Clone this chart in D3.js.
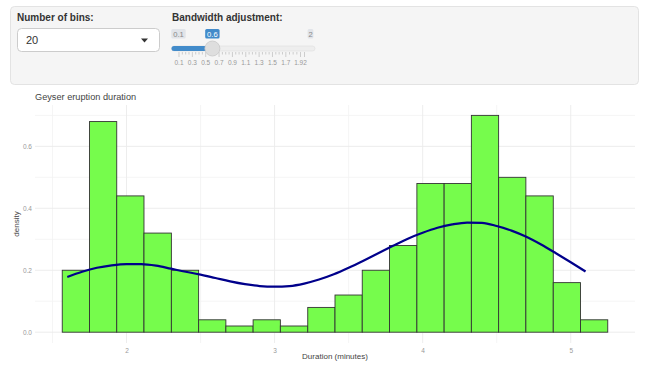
<!DOCTYPE html>
<html>
<head>
<meta charset="utf-8">
<script src="https://cdn.jsdelivr.net/npm/d3@7"></script>
<style>
  html, body { margin: 0; padding: 0; background: #fff; }
  svg { display: block; font-family: "Liberation Sans", Arial, Helvetica, sans-serif; }
</style>
</head>
<body>
<svg id="chart" width="650" height="365"></svg>
<script>
// ---------- data ----------
const binsLabel = "Number of bins:";
const binsValue = "20";
const bwLabel = "Bandwidth adjustment:";
const bwMin = 0.1, bwMax = 2, bwValue = 0.6;
const sliderTickLabels = ["0.1", "0.3", "0.5", "0.7", "0.9", "1.1", "1.3", "1.5", "1.7", "1.92"];

const chartTitle = "Geyser eruption duration";
const xTitle = "Duration (minutes)";
const yTitle = "density";

// histogram bin edges (minutes) and densities
const binEdges = [1.566, 1.750, 1.934, 2.118, 2.303, 2.487, 2.671, 2.855, 3.039, 3.224,
                  3.408, 3.592, 3.776, 3.961, 4.145, 4.329, 4.513, 4.697, 4.882, 5.066, 5.250];
const binDensity = [0.20, 0.68, 0.44, 0.32, 0.20, 0.04, 0.02, 0.04, 0.02, 0.08,
                    0.12, 0.20, 0.28, 0.48, 0.48, 0.70, 0.50, 0.44, 0.16, 0.04];

// kernel density curve
const kdeX = [1.6, 1.7, 1.8, 1.9, 2.0, 2.1, 2.2, 2.3, 2.4, 2.5, 2.6, 2.7, 2.8, 2.9, 3.0, 3.1, 3.2, 3.3,
              3.4, 3.5, 3.6, 3.7, 3.8, 3.9, 4.0, 4.1, 4.2, 4.3, 4.4, 4.5, 4.6, 4.7, 4.8, 4.9, 5.0, 5.1];
const kdeY = [0.178, 0.195, 0.208, 0.216, 0.220, 0.220, 0.215, 0.205, 0.195, 0.186, 0.175, 0.164,
              0.155, 0.149, 0.147, 0.149, 0.157, 0.170, 0.187, 0.208, 0.231, 0.255, 0.279, 0.302,
              0.321, 0.337, 0.348, 0.354, 0.353, 0.343, 0.328, 0.308, 0.283, 0.255, 0.226, 0.196];

const xTicks = [2, 3, 4, 5];
const xMinor = [1.5, 2.5, 3.5, 4.5];
const yTicks = [0.0, 0.2, 0.4, 0.6];
const yMinor = [0.1, 0.3, 0.5, 0.7];

// ---------- drawing ----------
const svg = d3.select("#chart");

// ----- control panel -----
svg.append("rect").attr("x", 10.5).attr("y", 6.5).attr("width", 628).attr("height", 78)
  .attr("rx", 4).attr("fill", "#f5f5f5").attr("stroke", "#e3e3e3");

svg.append("text").attr("x", 17).attr("y", 21).attr("font-size", 10).attr("font-weight", "bold")
  .attr("fill", "#333").text(binsLabel);

svg.append("rect").attr("x", 17.5).attr("y", 28.5).attr("width", 142).attr("height", 23)
  .attr("rx", 4).attr("fill", "#fff").attr("stroke", "#cccccc");
svg.append("text").attr("x", 26).attr("y", 44).attr("font-size", 11).attr("fill", "#333").text(binsValue);
svg.append("path").attr("d", "M141,38.5 L148,38.5 L144.5,42.5 Z").attr("fill", "#333");

svg.append("text").attr("x", 172).attr("y", 21).attr("font-size", 10).attr("font-weight", "bold")
  .attr("fill", "#333").text(bwLabel);

// slider scale
const sx = d3.scaleLinear().domain([bwMin, 1.92]).range([179, 300.5]);
const sliderLeft = 171.5, sliderRight = 315;
svg.append("rect").attr("x", sliderLeft).attr("y", 46).attr("width", sliderRight - sliderLeft).attr("height", 5)
  .attr("rx", 2.5).attr("fill", "#eeeeee").attr("stroke", "#dddddd").attr("stroke-width", 0.6);
svg.append("rect").attr("x", sliderLeft).attr("y", 46).attr("width", sx(bwValue) - sliderLeft).attr("height", 5)
  .attr("rx", 2.5).attr("fill", "#428bca");

// grid ticks of slider
const tickG = svg.append("g");
sliderTickLabels.forEach((lab, i) => {
  const v = +lab;
  tickG.append("line").attr("x1", sx(v)).attr("x2", sx(v)).attr("y1", 52).attr("y2", 57)
    .attr("stroke", "#bbb").attr("stroke-width", 0.7);
  tickG.append("text").attr("x", sx(v)).attr("y", 65).attr("text-anchor", "middle")
    .attr("font-size", 6.5).attr("fill", "#999").text(lab);
  if (i < sliderTickLabels.length - 1) {
    const nv = +sliderTickLabels[i + 1];
    for (let k = 1; k <= 3; k++) {
      const mv = v + (nv - v) * k / 4;
      tickG.append("line").attr("x1", sx(mv)).attr("x2", sx(mv)).attr("y1", 52).attr("y2", 54.5)
        .attr("stroke", "#bbb").attr("stroke-width", 0.7);
    }
  }
});
tickG.append("line").attr("x1", sx(1.92) + 4).attr("x2", sx(1.92) + 4).attr("y1", 52).attr("y2", 57)
  .attr("stroke", "#bbb").attr("stroke-width", 0.7);

// min / max / value labels
function sliderLabel(cx, txt, bg, fg) {
  const w = txt.length * 4.3 + 1.5;
  svg.append("rect").attr("x", cx - w / 2).attr("y", 29).attr("width", w).attr("height", 9.5)
    .attr("rx", 1.5).attr("fill", bg);
  svg.append("text").attr("x", cx).attr("y", 36.6).attr("text-anchor", "middle")
    .attr("font-size", 7.6).attr("fill", fg).text(txt);
}
sliderLabel(178.5, String(bwMin), "#e1e4e9", "#888");
sliderLabel(310.5, String(bwMax), "#e1e4e9", "#888");
sliderLabel(sx(bwValue), String(bwValue), "#428bca", "#fff");

// handle
svg.append("circle").attr("cx", sx(bwValue)).attr("cy", 48.5).attr("r", 7.5)
  .attr("fill", "#dedede").attr("stroke", "#c8c8c8").attr("stroke-width", 0.8);

// ----- plot -----
const x = d3.scaleLinear().domain([1.382, 5.434]).range([35, 635]);
const y = d3.scaleLinear().domain([-0.0349, 0.7335]).range([343, 105]);

const grid = svg.append("g");
yMinor.forEach(v => grid.append("line").attr("x1", 35).attr("x2", 635).attr("y1", y(v)).attr("y2", y(v))
  .attr("stroke", "#f3f3f3").attr("stroke-width", 0.8));
xMinor.forEach(v => grid.append("line").attr("x1", x(v)).attr("x2", x(v)).attr("y1", 105).attr("y2", 343)
  .attr("stroke", "#f3f3f3").attr("stroke-width", 0.8));
yTicks.forEach(v => grid.append("line").attr("x1", 35).attr("x2", 635).attr("y1", y(v)).attr("y2", y(v))
  .attr("stroke", "#ebebeb").attr("stroke-width", 0.9));
xTicks.forEach(v => grid.append("line").attr("x1", x(v)).attr("x2", x(v)).attr("y1", 105).attr("y2", 343)
  .attr("stroke", "#ebebeb").attr("stroke-width", 0.9));

// bars
svg.append("g").selectAll("rect").data(binDensity).join("rect")
  .attr("x", (d, i) => x(binEdges[i]))
  .attr("width", (d, i) => x(binEdges[i + 1]) - x(binEdges[i]))
  .attr("y", d => y(d))
  .attr("height", d => y(0) - y(d))
  .attr("fill", "#76fc4c")
  .attr("stroke", "#333")
  .attr("stroke-width", 0.9);

// density curve
const line = d3.line().x((d, i) => x(kdeX[i])).y(d => y(d)).curve(d3.curveMonotoneX);
svg.append("path").datum(kdeY).attr("d", line).attr("fill", "none")
  .attr("stroke", "#00008b").attr("stroke-width", 2.2);

// axes (labels only)
const xAxis = d3.axisBottom(x).tickValues(xTicks).tickFormat(d3.format("d")).tickSize(0);
const gx = svg.append("g").attr("transform", "translate(0,345)").call(xAxis);
gx.select(".domain").remove();
gx.selectAll("text").attr("font-size", 6.5).attr("fill", "#9a9a9a").attr("dy", "0.71em")
  .attr("font-family", "Liberation Sans, Arial, sans-serif");

const yAxis = d3.axisLeft(y).tickValues(yTicks).tickFormat(d3.format(".1f")).tickSize(0);
const gy = svg.append("g").attr("transform", "translate(32,0)").call(yAxis);
gy.select(".domain").remove();
gy.selectAll("text").attr("font-size", 6.5).attr("fill", "#9a9a9a").attr("x", 0)
  .attr("font-family", "Liberation Sans, Arial, sans-serif");

// titles
svg.append("text").attr("x", 35).attr("y", 100).attr("font-size", 9.2).attr("fill", "#444").text(chartTitle);
svg.append("text").attr("x", 335).attr("y", 359).attr("text-anchor", "middle").attr("font-size", 8)
  .attr("fill", "#444").text(xTitle);
svg.append("text").attr("transform", "translate(19,224) rotate(-90)").attr("text-anchor", "middle")
  .attr("font-size", 8).attr("fill", "#444").text(yTitle);
</script>
</body>
</html>
